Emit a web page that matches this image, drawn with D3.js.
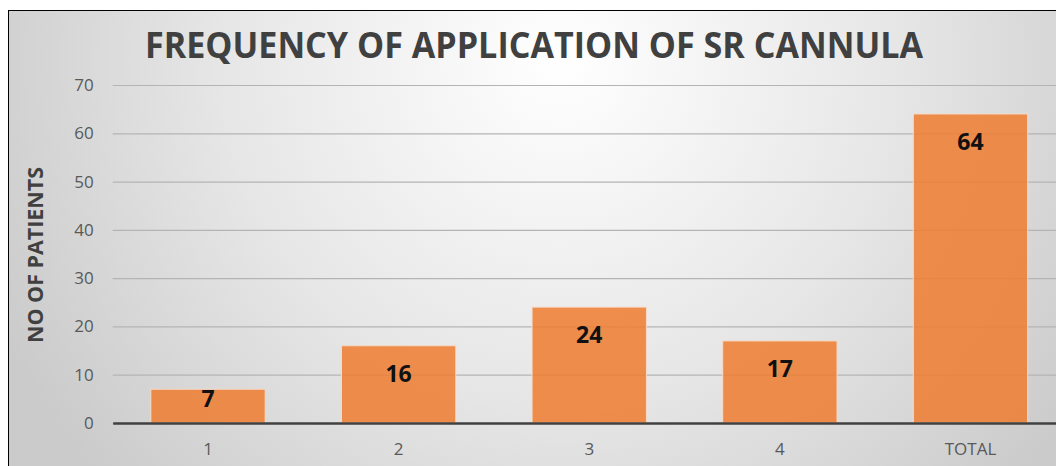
<!DOCTYPE html>
<html>
<head>
<meta charset="utf-8">
<script src="https://cdn.jsdelivr.net/npm/d3@7"></script>
<style>
  body { margin: 0; background: #fff; }
  svg { display: block; font-family: "Open Sans", sans-serif; }
</style>
</head>
<body>
<div id="plot"></div>
<script>
// chart data
const categories = ["1", "2", "3", "4", "TOTAL"];
const patients = [7, 16, 24, 17, 64];
const yTicks = [0, 10, 20, 30, 40, 50, 60, 70];
const chartTitle = "FREQUENCY OF APPLICATION OF SR CANNULA";
const yTitle = "NO OF PATIENTS";

const width = 1056;
const height = 466;

// plot box (chart is cropped on the right and bottom)
const plotLeft = 112.7, plotRight = 1065.8;
const plotTop = 85, plotBottom = 423;

const svg = d3.select("div#plot")
    .append("svg")
    .attr("width", width)
    .attr("height", height);

// radial background like the Excel preset
const defs = svg.append("defs");
const bg = defs.append("radialGradient")
    .attr("id", "bg-grad")
    .attr("gradientUnits", "userSpaceOnUse")
    .attr("cx", 560).attr("cy", 60)
    .attr("r", 620);
bg.selectAll("stop")
    .data([
        {offset: "0%", color: "#ffffff"},
        {offset: "55%", color: "#e6e6e6"},
        {offset: "100%", color: "#cbcbcb"}
    ])
    .enter().append("stop")
    .attr("offset", d => d.offset)
    .attr("stop-color", d => d.color);

svg.append("rect")
    .attr("x", 8.5).attr("y", 10.5)
    .attr("width", 1200).attr("height", 600)
    .attr("fill", "url(#bg-grad)")
    .attr("stroke", "#000")
    .attr("stroke-width", 1);

const x = d3.scaleBand()
    .domain(categories)
    .range([plotLeft, plotRight])
    .paddingInner(0.4)
    .paddingOuter(0.2);

const y = d3.scaleLinear()
    .domain([0, 70])
    .range([plotBottom, plotTop]);

// y axis with gridlines
const yAxis = svg.append("g")
    .attr("transform", `translate(${plotLeft},0)`)
    .call(d3.axisLeft(y)
        .tickValues(yTicks)
        .tickSize(-(plotRight - plotLeft))
        .tickPadding(19));
yAxis.select(".domain").remove();
yAxis.selectAll(".tick line")
    .attr("stroke", "#b4b4b4")
    .attr("stroke-width", 1.2);
yAxis.selectAll(".tick text")
    .attr("fill", "#595959")
    .style("font-size", "17px")
    .style("font-family", "'Open Sans', sans-serif");

// bars
svg.append("g")
    .selectAll("rect")
    .data(patients)
    .enter().append("rect")
    .attr("x", (d, i) => x(categories[i]))
    .attr("y", d => y(d))
    .attr("width", x.bandwidth())
    .attr("height", d => y(0) - y(d))
    .attr("fill", "#ED7D31")
    .attr("fill-opacity", 0.86)
    .attr("stroke", "#f6dccb")
    .attr("stroke-width", 1);

// value labels, inside end
svg.append("g")
    .selectAll("text")
    .data(patients)
    .enter().append("text")
    .attr("x", (d, i) => x(categories[i]) + x.bandwidth() / 2)
    .attr("y", d => Math.min(y(d) + 36, y(0) - 16))
    .attr("text-anchor", "middle")
    .attr("fill", "#111")
    .style("font-size", "23px")
    .style("font-weight", "bold")
    .text(d => d);

// x axis baseline and labels
const xAxis = svg.append("g")
    .attr("transform", `translate(0,${plotBottom})`)
    .call(d3.axisBottom(x).tickSize(0).tickPadding(20));
xAxis.select(".domain")
    .attr("stroke", "#404040")
    .attr("stroke-width", 2.5);
xAxis.selectAll(".tick text")
    .attr("fill", "#595959")
    .style("font-size", "17px")
    .style("font-family", "'Open Sans', sans-serif");

// titles
svg.append("text")
    .attr("x", 534)
    .attr("y", 58)
    .attr("text-anchor", "middle")
    .attr("fill", "#404040")
    .attr("textLength", 778)
    .attr("lengthAdjust", "spacingAndGlyphs")
    .style("font-size", "35px")
    .style("font-weight", "bold")
    .text(chartTitle);

svg.append("text")
    .attr("transform", "translate(43,255) rotate(-90)")
    .attr("text-anchor", "middle")
    .attr("fill", "#404040")
    .attr("textLength", 176)
    .attr("lengthAdjust", "spacingAndGlyphs")
    .style("font-size", "22px")
    .style("font-weight", "bold")
    .text(yTitle);
</script>
</body>
</html>
